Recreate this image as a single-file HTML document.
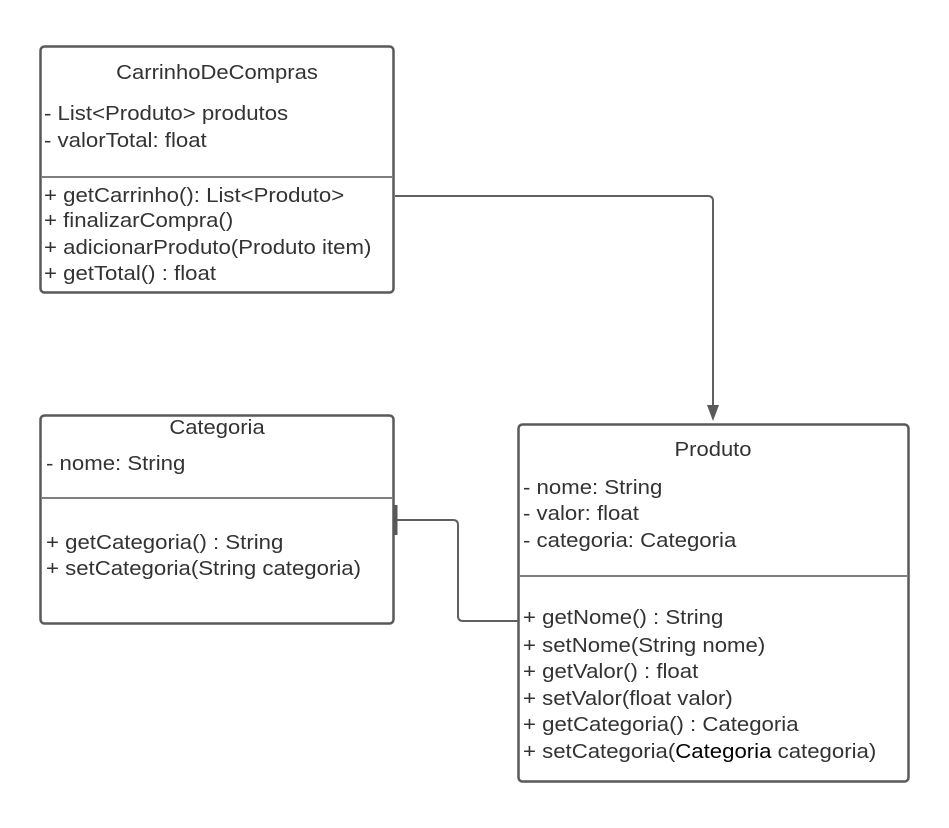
<!DOCTYPE html>
<html><head><meta charset="utf-8"><style>
html,body{margin:0;padding:0;background:#fff;}
svg text{font-family:"Liberation Sans",Arial,sans-serif;font-size:20px;fill:#333;}
</style></head><body>
<svg width="949" height="823" viewBox="0 0 949 823" xmlns="http://www.w3.org/2000/svg">
<rect x="0" y="0" width="949" height="823" fill="#fff"/>
<g fill="none" stroke="#595959" stroke-width="2.5">
<rect x="40.5" y="46.5" width="353" height="246" rx="4"/>
<rect x="40.5" y="415.5" width="353" height="208" rx="4"/>
<rect x="518.5" y="424.5" width="390" height="357" rx="4"/>
</g>
<g stroke="#555" stroke-width="1.5">
<line x1="42" y1="177" x2="392" y2="177"/>
<line x1="42" y1="498" x2="392" y2="498"/>
<line x1="520" y1="576" x2="907" y2="576"/>
</g>
<g fill="none" stroke="#606060" stroke-width="2">
<path d="M395 196 H708 Q713 196 713 201 V408"/>
<path d="M397 520 H453 Q458 520 458 525 V616 Q458 621 463 621 H518"/>
</g>
<polygon points="707,405 719,405 713,421" fill="#595959"/>
<line x1="396" y1="505" x2="396" y2="535" stroke="#595959" stroke-width="3"/>
<g transform="translate(217,0) scale(1.1,1)"><text x="0" y="79" text-anchor="middle">CarrinhoDeCompras</text></g>
<g transform="translate(44,0) scale(1.11,1)">
<text x="0" y="120">- List&lt;Produto&gt; produtos</text>
<text x="0" y="147">- valorTotal: float</text>
<text x="0" y="202">+ getCarrinho(): List&lt;Produto&gt;</text>
<text x="0" y="227">+ finalizarCompra()</text>
<text x="0" y="254">+ adicionarProduto(Produto item)</text>
<text x="0" y="280">+ getTotal() : float</text>
</g>
<g transform="translate(217,0) scale(1.1,1)"><text x="0" y="434" text-anchor="middle">Categoria</text></g>
<g transform="translate(46,0) scale(1.11,1)">
<text x="0" y="470">- nome: String</text>
<text x="0" y="549">+ getCategoria() : String</text>
<text x="0" y="575">+ setCategoria(String categoria)</text>
</g>
<g transform="translate(713,0) scale(1.1,1)"><text x="0" y="456" text-anchor="middle">Produto</text></g>
<g transform="translate(523,0) scale(1.11,1)">
<text x="0" y="494">- nome: String</text>
<text x="0" y="520">- valor: float</text>
<text x="0" y="547">- categoria: Categoria</text>
<text x="0" y="624">+ getNome() : String</text>
<text x="0" y="652">+ setNome(String nome)</text>
<text x="0" y="678">+ getValor() : float</text>
<text x="0" y="705">+ setValor(float valor)</text>
<text x="0" y="731">+ getCategoria() : Categoria</text>
<text x="0" y="758">+ setCategoria(<tspan style="fill:#000">Categoria</tspan> categoria)</text>
</g>
</svg>
</body></html>
